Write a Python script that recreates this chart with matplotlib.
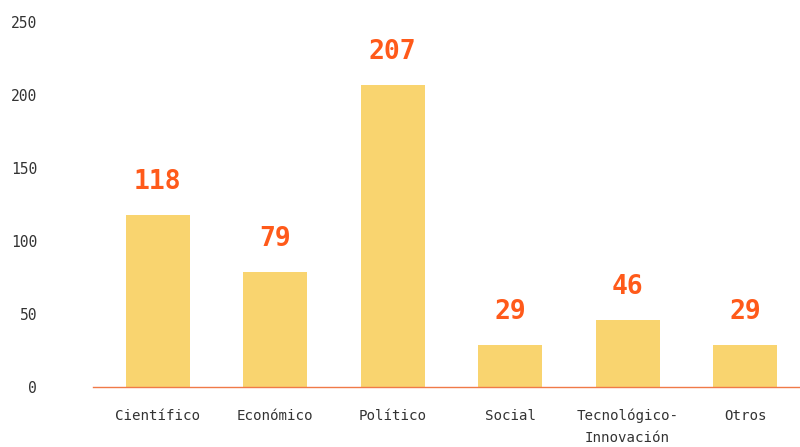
import matplotlib
matplotlib.use("Agg")
import matplotlib.pyplot as plt

categories = ["Científico", "Económico", "Político", "Social", "Tecnológico-\nInnovación", "Otros"]
values = [118, 79, 207, 29, 46, 29]
yticks = [0, 50, 100, 150, 200, 250]

bar_color = "#F9D46F"
label_color = "#FF5A1A"
axis_color = "#F07A48"
text_color = "#333333"

plt.rcParams["font.family"] = ["DejaVu Sans Mono"]

fig = plt.figure(figsize=(8, 4.47), dpi=100)
ax = fig.add_axes([0.116, 0.134, 0.884, 0.817])

x = list(range(len(categories)))
bars = ax.bar(x, values, width=0.545, color=bar_color, zorder=2)

for xi, v in zip(x, values):
    ax.annotate(str(v), (xi, v), xytext=(0, 14.5), textcoords="offset points",
                ha="center", va="bottom", fontsize=19, fontweight="bold",
                color=label_color)

ax.set_xlim(-0.554, 5.468)
ax.set_ylim(0, 250)
ax.set_yticks(yticks)
ax.set_xticks(x)
ax.set_xticklabels(categories, fontsize=10.2, color=text_color, linespacing=1.75)
ax.tick_params(axis="y", length=0, pad=40, labelsize=10.5, labelcolor=text_color)
ax.tick_params(axis="x", length=0, pad=15.5)

for s in ["top", "right", "left"]:
    ax.spines[s].set_visible(False)
ax.spines["bottom"].set_color(axis_color)
ax.spines["bottom"].set_linewidth(1)
ax.spines["bottom"].set_zorder(3)

fig.savefig("out.png", dpi=100)
